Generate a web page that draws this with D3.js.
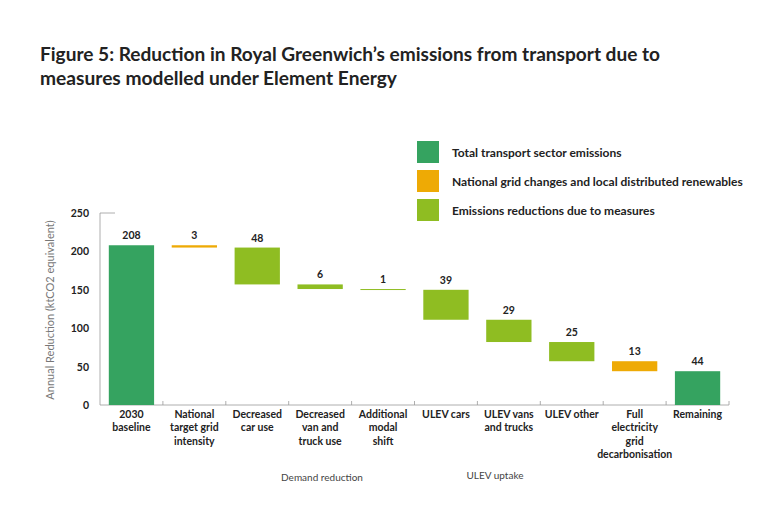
<!DOCTYPE html>
<html><head><meta charset="utf-8">
<script src="https://cdn.jsdelivr.net/npm/d3@7"></script>
<style>body{margin:0;background:#fff}svg{display:block}text{font-family:Lato,"Open Sans",sans-serif}</style>
</head><body><svg id="c" width="768" height="512"></svg>
<script>
const categories = [["2030","baseline"],["National","target grid","intensity"],["Decreased","car use"],["Decreased","van and","truck use"],["Additional","modal","shift"],["ULEV cars"],["ULEV vans","and trucks"],["ULEV other"],["Full","electricity","grid","decarbonisation"],["Remaining"]];
const values = [208,3,48,6,1,39,29,25,13,44];
const types = ["total","grid","measure","measure","measure","measure","measure","measure","grid","total"];
const yTicks = [0,50,100,150,200,250];
const legendLabels = ["Total transport sector emissions","National grid changes and local distributed renewables","Emissions reductions due to measures"];
const legendTypes = ["total","grid","measure"];
const groups = [["Demand reduction",322,481],["ULEV uptake",495,479]];
const titleLines = ["Figure 5: Reduction in Royal Greenwich\u2019s emissions from transport due to","measures modelled under Element Energy"];

const colors = {total:"#35a360", grid:"#eeaa05", measure:"#8fbd22"};
const svg = d3.select("#c");
const x = d3.scaleBand().domain(d3.range(categories.length)).range([100,729]).paddingInner(0.28).paddingOuter(0.14);
const y = d3.scaleLinear().domain([0,250]).range([405,213]);

// waterfall
let run = 0; const bars = [];
values.forEach((v,i)=>{
  if(types[i]==="total"){ bars.push({i,lo:0,hi:v}); run=v; }
  else { bars.push({i,lo:run-v,hi:run}); run-=v; }
});

// title
svg.selectAll("text.title").data(titleLines).join("text")
  .attr("x",40).attr("y",(d,i)=>61+i*24)
  .attr("font-size",18.5).attr("font-weight",700).attr("fill","#222")
  .attr("textLength",(d,i)=>i===0?620:357).attr("lengthAdjust","spacingAndGlyphs")
  .text(d=>d);

// axes
svg.append("line").attr("x1",100).attr("x2",100).attr("y1",y(250)).attr("y2",y(0)).attr("stroke","#999").attr("stroke-width",0.8);
svg.append("line").attr("x1",100).attr("x2",115).attr("y1",y(250)).attr("y2",y(250)).attr("stroke","#999").attr("stroke-width",0.8);
svg.append("line").attr("x1",100).attr("x2",729).attr("y1",y(0)).attr("y2",y(0)).attr("stroke","#999").attr("stroke-width",0.8);
const step = x.step();
const bounds = d3.range(1,categories.length+1).map(k=>x(k-1)+x.bandwidth()+ (step-x.bandwidth())/2);
svg.selectAll("line.tk").data(bounds).join("line").attr("class","tk")
  .attr("x1",d=>d).attr("x2",d=>d).attr("y1",y(0)).attr("y2",y(0)-4).attr("stroke","#999").attr("stroke-width",0.8);

svg.selectAll("text.yt").data(yTicks).join("text").attr("class","yt")
  .attr("x",89).attr("y",d=>y(d)+4).attr("text-anchor","end")
  .attr("font-size",10.5).attr("font-weight",700).attr("fill","#222").text(d=>d);

svg.append("text").attr("transform","translate(54,310) rotate(-90)").attr("text-anchor","middle")
  .attr("font-size",11).attr("fill","#777").text("Annual Reduction (ktCO2 equivalent)");

// bars
svg.selectAll("rect.bar").data(bars).join("rect").attr("class","bar")
  .attr("x",d=>x(d.i)).attr("width",x.bandwidth())
  .attr("y",d=>y(d.hi)).attr("height",d=>Math.max(1,y(d.lo)-y(d.hi)))
  .attr("fill",d=>colors[types[d.i]]);

svg.selectAll("text.val").data(bars).join("text").attr("class","val")
  .attr("x",d=>x(d.i)+x.bandwidth()/2).attr("y",d=>y(d.hi)-6).attr("text-anchor","middle")
  .attr("font-size",10.5).attr("font-weight",700).attr("fill","#222").text(d=>values[d.i]);

// category labels
const cl = svg.selectAll("text.cat").data(categories).join("text").attr("class","cat")
  .attr("text-anchor","middle").attr("font-size",10.5).attr("font-weight",700).attr("fill","#222");
cl.selectAll("tspan").data((d,i)=>d.map(s=>({s,i}))).join("tspan")
  .attr("x",d=>x(d.i)+x.bandwidth()/2).attr("y",(d,j)=>418+j*13.3).text(d=>d.s);

// group labels
svg.selectAll("text.grp").data(groups).join("text").attr("class","grp")
  .attr("x",d=>d[1]).attr("y",d=>d[2]).attr("text-anchor","middle")
  .attr("font-size",10).attr("fill","#444").text(d=>d[0]);

// legend
const lg = svg.selectAll("g.lg").data(legendLabels).join("g").attr("class","lg")
  .attr("transform",(d,i)=>`translate(417,${141+i*29})`);
lg.append("rect").attr("width",22).attr("height",22).attr("fill",(d,i)=>colors[legendTypes[i]]);
lg.append("text").attr("x",35).attr("y",15.5).attr("font-size",12).attr("font-weight",700).attr("fill","#222").text(d=>d);
</script></body></html>
